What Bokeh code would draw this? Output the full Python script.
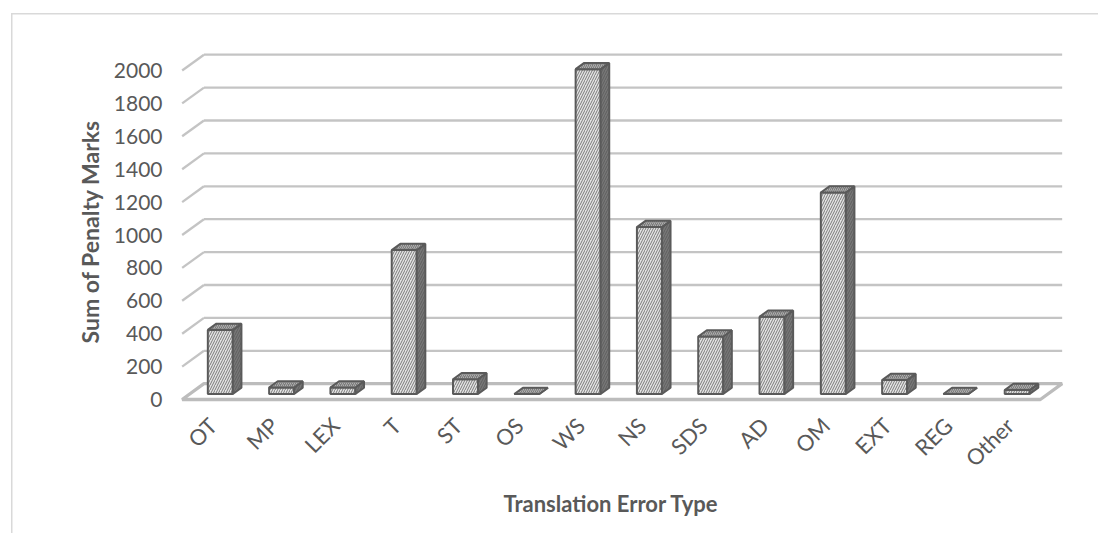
import math
from bokeh.plotting import figure
from bokeh.models import Range1d, FixedTicker, Title
from bokeh.embed import file_html
from bokeh.resources import INLINE

# ---------------- data ----------------
categories = ["OT", "MP", "LEX", "T", "ST", "OS", "WS", "NS", "SDS", "AD",
              "OM", "EXT", "REG", "Other"]
penalty_marks = [390, 40, 40, 875, 90, 0, 1975, 1015, 350, 470, 1225, 85, 0, 25]
y_ticks = [0, 200, 400, 600, 800, 1000, 1200, 1400, 1600, 1800, 2000]
y_title = "Sum of Penalty Marks"
x_title = "Translation Error Type"

# ---------------- layout (pixels) ----------------
W, H = 1098, 533
FL, FR, FT, FB = 172, 1092, 18, 404      # frame edges in figure pixels
PX_X = 61.3                               # pixels per category
PX_Y = 329 / 2000                         # pixels per value unit
X0 = 212.3                                # pixel x of category 0 (front plane)
Y0 = 399.0                                # pixel y of value 0 (front plane)

def dx(px):
    return (px - X0) / PX_X

def dy(py):
    return (Y0 - py) / PX_Y

DX = 21.8 / PX_X          # depth of the box (data units)
DY = 15.8 / PX_Y
F0, F1 = 0.345, 0.74      # bar depth fractions
BW = 25 / PX_X            # bar width

TXT = "#595959"
FONT = "Lato"

p = figure(width=W, height=H,
           x_range=Range1d(dx(FL), dx(FR)), y_range=Range1d(dy(FB), dy(FT)),
           output_backend="svg", toolbar_location=None,
           min_border_left=FL, min_border_right=W - FR,
           min_border_top=FT, min_border_bottom=H - FB)
p.xgrid.visible = False
p.ygrid.visible = False
p.outline_line_color = None
p.background_fill_color = None
p.border_fill_color = None
p.styles = {
    "background": ("linear-gradient(#d9d9d9, #d9d9d9) 11px 13px / 1.5px 100% no-repeat, "
                   "linear-gradient(#d9d9d9, #d9d9d9) 11px 13px / 100% 1.5px no-repeat, #ffffff")
}

# y axis
p.yaxis.ticker = FixedTicker(ticks=y_ticks)
p.yaxis.axis_line_color = None
p.yaxis.major_tick_line_color = None
p.yaxis.minor_tick_line_color = None
p.yaxis.major_tick_out = 0
p.yaxis.major_label_standoff = 10
p.yaxis.major_label_text_font = FONT
p.yaxis.major_label_text_font_size = "21px"
p.yaxis.major_label_text_color = TXT

# x axis
n = len(categories)
p.xaxis.ticker = FixedTicker(ticks=list(range(n)))
p.xaxis.major_label_overrides = {i: c for i, c in enumerate(categories)}
p.xaxis.major_label_orientation = math.pi / 4
p.xaxis.axis_line_color = None
p.xaxis.major_tick_line_color = None
p.xaxis.minor_tick_line_color = None
p.xaxis.major_tick_out = 0
p.xaxis.major_label_standoff = 17
p.xaxis.major_label_text_font = FONT
p.xaxis.major_label_text_font_size = "22px"
p.xaxis.major_label_text_color = TXT

# back wall gridlines and left-wall slants
gv = y_ticks[1:]
left_f, right_f = -0.5, n - 0.5
p.segment(x0=[left_f + DX] * len(gv), y0=[v + DY for v in gv],
          x1=[right_f + DX] * len(gv), y1=[v + DY for v in gv],
          line_color="#c4c4c4", line_width=2.3)
p.segment(x0=[left_f] * len(gv), y0=gv,
          x1=[left_f + DX] * len(gv), y1=[v + DY for v in gv],
          line_color="#c4c4c4", line_width=2.3)

# floor
p.patch(x=[left_f, right_f, right_f + DX, left_f + DX], y=[0, 0, DY, DY],
        fill_color="white", line_color="#bcbcbc", line_width=3.3)

# bars (front, side, top)
lefts, rights, bottoms, tops = [], [], [], []
side_xs, side_ys, top_xs, top_ys = [], [], [], []
ddx, ddy = (F1 - F0) * DX, (F1 - F0) * DY
for i, v in enumerate(penalty_marks):
    cx = i + F0 * DX
    l, r = cx - BW / 2, cx + BW / 2
    b, t = F0 * DY, v + F0 * DY
    lefts.append(l); rights.append(r); bottoms.append(b); tops.append(t)
    side_xs.append([r, r + ddx, r + ddx, r]); side_ys.append([b, b + ddy, t + ddy, t])
    top_xs.append([l, r, r + ddx, l + ddx]); top_ys.append([t, t, t + ddy, t + ddy])

p.quad(left=lefts, right=rights, bottom=bottoms, top=tops,
       fill_color="#e4e4e4", hatch_pattern="/", hatch_color="#7a7a7a",
       hatch_scale=5, hatch_weight=1,
       line_color="#5a5a5a", line_width=2)
p.patches(xs=side_xs, ys=side_ys, fill_color="#777777", hatch_pattern="/",
          hatch_color="#5e5e5e", hatch_scale=5, hatch_weight=1,
          line_color="#5a5a5a", line_width=2)
p.patches(xs=top_xs, ys=top_ys, fill_color="#7a7a7a", hatch_pattern="/",
          hatch_color="#b0b0b0", hatch_scale=4, hatch_weight=1,
          line_color="#5a5a5a", line_width=2)

# axis titles
p.add_layout(Title(text=y_title, align="left", offset=61, standoff=14,
                   text_font=FONT, text_font_size="23px", text_font_style="bold",
                   text_color=TXT), "left")
p.add_layout(Title(text=x_title, align="left", offset=331, standoff=6,
                   text_font=FONT, text_font_size="22px", text_font_style="bold",
                   text_color=TXT), "below")

open("out.html", "w").write(file_html(p, INLINE))
